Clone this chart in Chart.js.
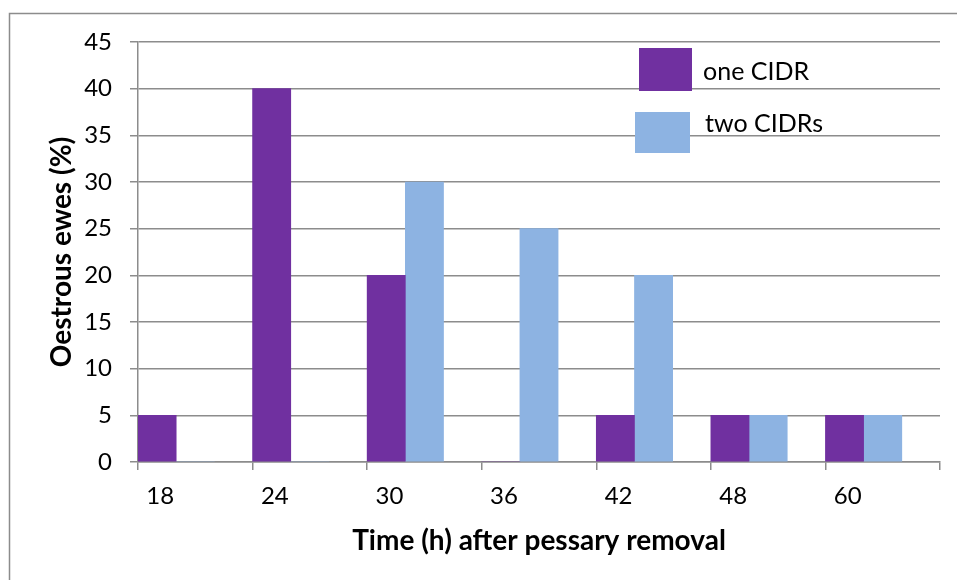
<!DOCTYPE html>
<html>
<head>
<meta charset="utf-8">
<script src="https://cdn.jsdelivr.net/npm/chart.js@4.4.1/dist/chart.umd.min.js"></script>
<style>
  html, body { margin: 0; padding: 0; background: #fff; }
  #wrap { width: 957px; height: 580px; }
</style>
</head>
<body>
<div id="wrap"><canvas id="chart" width="957" height="580"></canvas></div>
<script>
// hours after pessary removal
const hours = ['18', '24', '30', '36', '42', '48', '60'];
const oneCidr = [5, 40, 20, 0, 5, 5, 5];
const twoCidrs = [0, 0, 30, 25, 20, 5, 5];
// empty third slot, the original leaves a gap after each pair
const spacer = [null, null, null, null, null, null, null];
const yTicks = [0, 5, 10, 15, 20, 25, 30, 35, 40, 45];

const purple = '#7030A0';
const blue = '#8DB3E2';
const gridGrey = '#8c8c8c';
const font = 'Lato, "Open Sans", sans-serif';

// frame round the chart + legend inside the plot
const extras = {
  id: 'extras',
  beforeDraw(chart) {
    const ctx = chart.ctx;
    ctx.save();
    ctx.strokeStyle = '#8c8c8c';
    ctx.lineWidth = 1.5;
    ctx.beginPath();
    ctx.moveTo(9.5, 600);
    ctx.lineTo(9.5, 13.5);
    ctx.lineTo(960, 13.5);
    ctx.stroke();
    ctx.restore();
  },
  afterDraw(chart) {
    const ctx = chart.ctx;
    const items = [
      { label: 'one CIDR', color: purple, box: [639, 48, 53, 43], tx: 703, ty: 72 },
      { label: 'two CIDRs', color: blue, box: [635, 112, 55, 41], tx: 705, ty: 124 }
    ];
    ctx.save();
    ctx.font = '25px ' + font;
    ctx.textBaseline = 'middle';
    items.forEach(it => {
      ctx.fillStyle = it.color;
      ctx.fillRect(...it.box);
      ctx.fillStyle = '#000';
      ctx.fillText(it.label, it.tx, it.ty);
    });
    ctx.restore();
  }
};

new Chart(document.getElementById('chart'), {
  type: 'bar',
  data: {
    labels: hours,
    datasets: [
      { label: 'one CIDR', data: oneCidr, backgroundColor: purple },
      { label: 'two CIDRs', data: twoCidrs, backgroundColor: blue },
      { label: '', data: spacer, backgroundColor: 'rgba(0,0,0,0)' }
    ]
  },
  options: {
    responsive: false,
    animation: false,
    layout: { padding: { left: 10, top: 42, right: 17, bottom: 0 } },
    datasets: { bar: { barPercentage: 1, categoryPercentage: 1 } },
    plugins: { legend: { display: false }, tooltip: { enabled: false } },
    scales: {
      x: {
        grid: { offset: true, drawOnChartArea: false, drawTicks: true, tickLength: 8, color: gridGrey, lineWidth: 1.5 },
        border: { color: gridGrey, width: 1.5 },
        ticks: { color: '#000', font: { family: font, size: 24 }, padding: 12, labelOffset: -35, maxRotation: 0 },
        title: { display: true, text: 'Time (h) after pessary removal', color: '#000',
                 font: { family: font, size: 28, weight: 'bold' }, padding: { top: 0, bottom: 22 } },
        afterFit(s) { s.height = 118; }
      },
      y: {
        min: 0, max: 45,
        afterBuildTicks(s) { s.ticks = yTicks.map(v => ({ value: v })); },
        grid: { color: gridGrey, lineWidth: 1.5, tickLength: 8 },
        border: { color: gridGrey, width: 1.5 },
        ticks: { color: '#000', font: { family: font, size: 24 }, padding: 18 },
        title: { display: true, text: 'Oestrous ewes (%)', color: '#000',
                 font: { family: font, size: 28, weight: 'bold' }, padding: { top: 35, bottom: 0 } },
        afterFit(s) { s.width = 128; }
      }
    }
  },
  plugins: [extras]
});
</script>
</body>
</html>
